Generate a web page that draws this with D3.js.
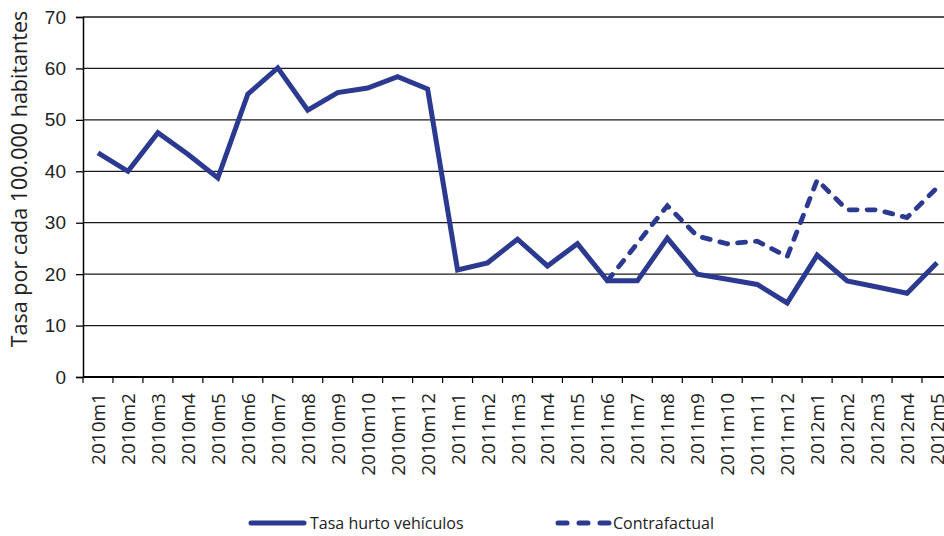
<!DOCTYPE html>
<html>
<head>
<meta charset="utf-8">
<script src="https://cdn.jsdelivr.net/npm/d3@7"></script>
<style>
  body { margin: 0; background: #fff; }
  svg { display: block; font-family: "Open Sans", sans-serif; }
</style>
</head>
<body>
<div id="chart"></div>
<script>
var months = ["2010m1","2010m2","2010m3","2010m4","2010m5","2010m6","2010m7","2010m8","2010m9","2010m10","2010m11","2010m12",
              "2011m1","2011m2","2011m3","2011m4","2011m5","2011m6","2011m7","2011m8","2011m9","2011m10","2011m11","2011m12",
              "2012m1","2012m2","2012m3","2012m4","2012m5"];
var tasa = [43.6, 40.0, 47.5, 43.3, 38.7, 55.0, 60.1, 51.9, 55.3, 56.2, 58.4, 56.0,
            20.8, 22.2, 26.8, 21.6, 25.9, 18.7, 18.7, 27.0, 20.0, 19.0, 18.0, 14.4,
            23.7, 18.7, 17.5, 16.3, 22.2];
var contraMonths = ["2011m6","2011m7","2011m8","2011m9","2011m10","2011m11","2011m12","2012m1","2012m2","2012m3","2012m4","2012m5"];
var contra = [18.7, 26.0, 33.3, 27.4, 25.9, 26.4, 23.4, 38.3, 32.5, 32.5, 31.0, 36.8];
var yTicks = [0, 10, 20, 30, 40, 50, 60, 70];

(function() {
    var width = 944;
    var height = 536;
    var blue = "#2b3990";
    var svg = d3.select("#chart").append("svg")
        .attr("width", width)
        .attr("height", height);

    var x = d3.scaleBand().domain(months).range([83, 952]);
    var y = d3.scaleLinear().domain([0, 70]).range([377, 17]);
    var cx = function(m) { return x(m) + x.bandwidth() / 2; };

    // grid
    svg.append("g").selectAll("line")
        .data(yTicks.filter(function(d) { return d > 0; }))
        .enter().append("line")
        .attr("x1", 83).attr("x2", width)
        .attr("y1", function(d) { return y(d); })
        .attr("y2", function(d) { return y(d); })
        .attr("stroke", "#1a1a1a")
        .attr("stroke-width", 1.3);

    // y axis
    var yAxis = svg.append("g")
        .attr("transform", "translate(83,0)")
        .call(d3.axisLeft(y).tickValues(yTicks).tickSize(7).tickPadding(10));
    yAxis.select(".domain").attr("stroke", "#000").attr("stroke-width", 1.5);
    yAxis.selectAll(".tick line").attr("stroke", "#000").attr("stroke-width", 1.3);
    yAxis.selectAll("text").attr("font-size", 19).attr("fill", "#222");

    // x axis
    svg.append("line")
        .attr("x1", 83).attr("x2", width)
        .attr("y1", y(0)).attr("y2", y(0))
        .attr("stroke", "#000").attr("stroke-width", 1.8);
    svg.append("g").selectAll("line")
        .data(months)
        .enter().append("line")
        .attr("x1", function(d) { return x(d); })
        .attr("x2", function(d) { return x(d); })
        .attr("y1", y(0)).attr("y2", y(0) + 6)
        .attr("stroke", "#000").attr("stroke-width", 1.2);
    svg.append("g").selectAll("text")
        .data(months)
        .enter().append("text")
        .attr("transform", function(d) { return "translate(" + (cx(d) + 7) + "," + (y(0) + 16) + ") rotate(-90)"; })
        .attr("text-anchor", "end")
        .attr("font-size", 19)
        .attr("fill", "#222")
        .text(function(d) { return d; });

    // y title
    svg.append("text")
        .attr("transform", "translate(27,179) rotate(-90)")
        .attr("text-anchor", "middle")
        .attr("font-size", 21.5)
        .attr("fill", "#222")
        .text("Tasa por cada 100.000 habitantes");

    // lines
    var line = d3.line()
        .x(function(d) { return cx(d[0]); })
        .y(function(d) { return y(d[1]); });

    svg.append("path")
        .attr("d", line(contraMonths.map(function(m, i) { return [m, contra[i]]; })))
        .attr("fill", "none")
        .attr("stroke", blue)
        .attr("stroke-width", 4.8)
        .attr("stroke-linecap", "round")
        .attr("stroke-dasharray", "8,10");

    svg.append("path")
        .attr("d", line(months.map(function(m, i) { return [m, tasa[i]]; })))
        .attr("fill", "none")
        .attr("stroke", blue)
        .attr("stroke-width", 5)
        .attr("stroke-linejoin", "miter");

    // legend
    var lg = svg.append("g");
    lg.append("line")
        .attr("x1", 251).attr("x2", 304).attr("y1", 523).attr("y2", 523)
        .attr("stroke", blue).attr("stroke-width", 5).attr("stroke-linecap", "round");
    lg.append("text").attr("x", 310).attr("y", 529).attr("font-size", 16).attr("fill", "#222")
        .text("Tasa hurto vehículos");
    lg.append("line")
        .attr("x1", 558).attr("x2", 610).attr("y1", 523).attr("y2", 523)
        .attr("stroke", blue).attr("stroke-width", 5).attr("stroke-linecap", "round")
        .attr("stroke-dasharray", "9,12");
    lg.append("text").attr("x", 613).attr("y", 529).attr("font-size", 16).attr("fill", "#222")
        .text("Contrafactual");
})();
</script>
</body>
</html>
